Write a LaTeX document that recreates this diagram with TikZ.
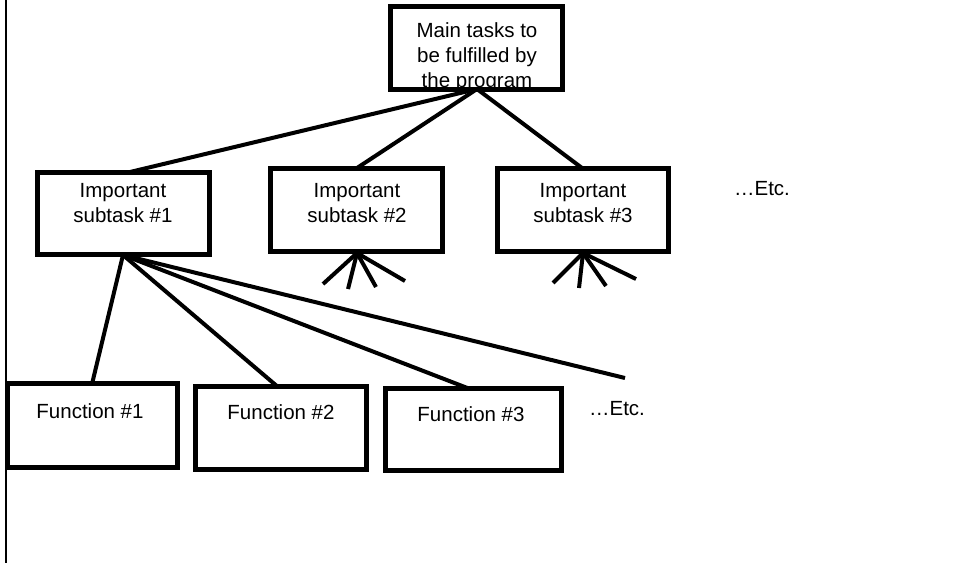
\documentclass[tikz,border=0pt]{standalone}
\usepackage{fontspec}
\setmainfont{Liberation Sans}
\begin{document}
\begin{tikzpicture}[x=1pt,y=-1pt,
  box/.style={draw=black,line width=5pt,fill=white,inner sep=0pt},
  txt/.style={font=\fontsize{20.5}{25}\selectfont,align=center,inner sep=0pt},
  link/.style={line width=4pt,line cap=butt},
  spoke/.style={line width=4pt}]
\useasboundingbox (0,0) rectangle (957,563);
% left margin rule
\draw[line width=2pt] (6,0) -- (6,563);

% tree links drawn first so the boxes sit on top
\coordinate (mb) at (477,89);
\coordinate (s1t) at (130,172);
\coordinate (s2t) at (357,168);
\coordinate (s3t) at (582,168);
\draw[link] (mb) -- (s1t);
\draw[link] (mb) -- (s2t);
\draw[link] (mb) -- (s3t);

\coordinate (s1b) at (123,255);
\coordinate (f1t) at (92,384);
\coordinate (f2t) at (278,387);
\coordinate (f3t) at (470,389);
\coordinate (etc2) at (625,378);
\draw[link] (s1b) -- (f1t);
\draw[link] (s1b) -- (f2t);
\draw[link] (s1b) -- (f3t);
\draw[link] (s1b) -- (etc2);

% boxes
\node[box,minimum width=172pt,minimum height=83pt] (main) at (476,48) {};
\node[box,minimum width=172pt,minimum height=82pt] (s1) at (123.5,213.5) {};
\node[box,minimum width=172pt,minimum height=83pt] (s2) at (356.5,210) {};
\node[box,minimum width=171pt,minimum height=83pt] (s3) at (583,210) {};
\node[box,minimum width=170pt,minimum height=84pt] (f1) at (92,425.5) {};
\node[box,minimum width=171pt,minimum height=83pt] (f2) at (281,428) {};
\node[box,minimum width=176pt,minimum height=82pt] (f3) at (473.5,429.5) {};

% short spokes under subtasks 2 and 3
\coordinate (s2b) at (357,253);
\coordinate (s3b) at (583,253);
\coordinate (s2a) at (323,284);
\coordinate (s2bb) at (348,289);
\coordinate (s2c) at (376,287);
\coordinate (s2d) at (405,281);
\coordinate (s3a) at (553,283);
\coordinate (s3bb) at (579,288);
\coordinate (s3c) at (606,286);
\coordinate (s3d) at (636,279);
\foreach \i in {a,bb,c,d}{
  \draw[spoke] (s2b) -- (s2\i);
  \draw[spoke] (s3b) -- (s3\i);
}

% labels
\node[txt] (mainl) at (477,57) {Main tasks to\\be fulfilled by\\the program};
\node[txt] (s1l) at (123,203) {Important\\subtask \#1};
\node[txt] (s2l) at (357,203) {Important\\subtask \#2};
\node[txt] (s3l) at (583,203) {Important\\subtask \#3};
\node[txt] (f1l) at (90,411) {Function \#1};
\node[txt] (f2l) at (281,412) {Function \#2};
\node[txt] (f3l) at (471,414) {Function \#3};
\node[txt] (etc1) at (762,189) {…Etc.};
\node[txt] (etc3) at (617,409) {…Etc.};
\end{tikzpicture}
\end{document}
